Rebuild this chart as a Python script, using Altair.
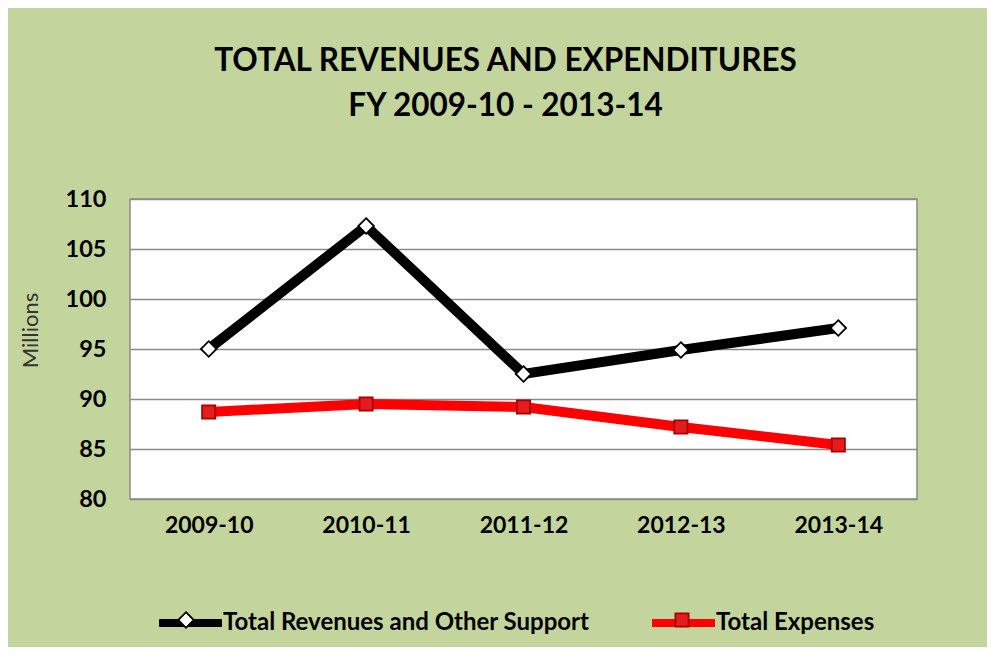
import altair as alt
import pandas as pd

years = ["2009-10", "2010-11", "2011-12", "2012-13", "2013-14"]
revenues = [95.0, 107.3, 92.5, 94.9, 97.1]
expenses = [88.7, 89.5, 89.2, 87.2, 85.4]
series_names = ["Total Revenues and Other Support", "Total Expenses"]
y_ticks = [80, 85, 90, 95, 100, 105, 110]

rows = []
for yr, v in zip(years, revenues):
    rows.append({"year": yr, "series": series_names[0], "s2": series_names[0], "value": v})
for yr, v in zip(years, expenses):
    rows.append({"year": yr, "series": series_names[1], "s2": series_names[1], "value": v})
df = pd.DataFrame(rows)

FONT = "Lato"
DIAMOND = "M0,-0.26L0.26,0L0,0.26L-0.26,0Z"
SQUARE = "M-0.22,-0.22H0.22V0.22H-0.22Z"
SYM = 3600
LX, LY = 25, 390
COLPAD = 46
FIRST_LABEL_W = 388

x = alt.X("year:N", sort=years, axis=alt.Axis(
    title=None, labelAngle=0, labelFont=FONT, labelFontSize=23, labelFontWeight="bold",
    labelColor="black", labelPadding=15, ticks=False, domain=False, grid=False))
y = alt.Y("value:Q", scale=alt.Scale(domain=[80, 110], nice=False, zero=False), axis=alt.Axis(
    values=y_ticks, title="Millions", titleFont=FONT, titleFontSize=22, titleFontWeight="normal",
    titleColor="#333333", titlePadding=23, titleY=131, labelFont=FONT, labelFontSize=23.5, labelFontWeight="bold",
    labelColor="black", labelPadding=24, ticks=False, domain=False, grid=True,
    gridColor="#8a8a8a", gridWidth=1.5))

common_legend = dict(title=None, orient="none", legendX=LX, legendY=LY, direction="horizontal",
                     symbolSize=SYM, labelFont=FONT, labelFontSize=24, labelFontWeight="bold",
                     labelColor="black", labelOffset=0, padding=0, labelLimit=800)

legend_a = alt.Legend(symbolType="M-1,0H1.1", symbolStrokeWidth=8, zindex=0,
                      columnPadding=COLPAD, **common_legend)
legend_b = alt.Legend(symbolStrokeWidth=1.8, labelExpr="''", zindex=1,
                      columnPadding=COLPAD + FIRST_LABEL_W, **common_legend)

lines = alt.Chart(df).mark_line(strokeWidth=10, strokeJoin="miter").encode(
    x=x, y=y,
    color=alt.Color("series:N", sort=series_names, scale=alt.Scale(range=["#000000", "#ff0000"]),
                    legend=legend_a),
)

points = alt.Chart(df).mark_point(filled=True, size=SYM, strokeWidth=1.8, opacity=1).encode(
    x=x, y=y,
    fill=alt.Fill("s2:N", scale=alt.Scale(domain=series_names, range=["#ffffff", "#e41c1c"]), legend=legend_b),
    shape=alt.Shape("s2:N", scale=alt.Scale(domain=series_names, range=[DIAMOND, SQUARE]), legend=legend_b),
    stroke=alt.Stroke("s2:N", scale=alt.Scale(domain=series_names, range=["#000000", "#a80000"]), legend=legend_b),
)

chart = alt.layer(lines, points).properties(
    width=787, height=300,
    autosize=alt.AutoSizeParams(type="none"),
    padding={"left": 122, "top": 191, "right": 70, "bottom": 148},
    background="#c4d49d",
    title=alt.TitleParams(
        ["TOTAL REVENUES AND EXPENDITURES", "FY 2009-10 - 2013-14"],
        font=FONT, fontSize=31.5, fontWeight="bold", color="black",
        anchor="middle", dx=-18, offset=65, lineHeight=45,
    ),
).configure_view(fill="white", stroke="#8a8a8a", strokeWidth=1.5)

chart.save("out.html", embed_options={"renderer": "svg", "actions": False})
